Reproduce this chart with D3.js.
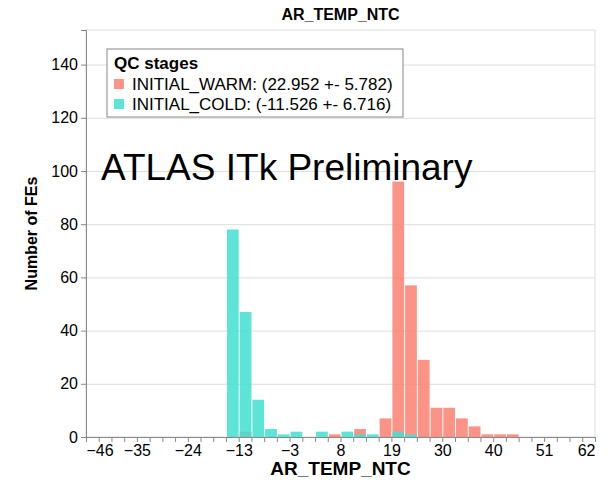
<!DOCTYPE html>
<html>
<head>
<meta charset="utf-8">
<script src="https://cdn.jsdelivr.net/npm/d3@7"></script>
<style>
  body { margin: 0; background: #fff; }
  svg { font-family: "Liberation Sans", Arial, Helvetica, sans-serif; }
</style>
</head>
<body>
<div id="chart"></div>
<script>
// histogram bins (lower edge of each bin, all bins 2.7 wide)
const binStart = -45.9;
const binWidth = 2.7;
const binCount = 40;

// INITIAL_WARM
const warmLow   = [-13.5, 5.4, 10.8, 16.2, 18.9, 21.6, 24.3, 27.0, 29.7, 32.4, 35.1, 37.8, 40.5, 43.2];
const warmCount = [2, 1, 3, 7, 96, 57, 29, 11, 11, 7, 4, 1, 1, 1];

// INITIAL_COLD
const coldLow   = [-16.2, -13.5, -10.8, -8.1, -5.4, -2.7, 2.7, 8.1, 10.8, 13.5, 18.9, 21.6];
const coldCount = [78, 47, 14, 3, 1, 2, 2, 2, 1, 1, 2, 1];

const seriesNames  = ["INITIAL_WARM: (22.952 +- 5.782)", "INITIAL_COLD: (-11.526 +- 6.716)"];
const seriesColors = ["#fa8072", "#40e0d0"];

const yTicks = [0, 20, 40, 60, 80, 100, 120, 140];
const xTickLabels = ["\u221246", "\u221235", "\u221224", "\u221213", "\u22123", "8", "19", "30", "40", "51", "62"];

function init() {
    var w = 613;
    var h = 482;
    var left = 86, right = 595, top = 30, bottom = 437;

    var svg = d3.select("#chart")
                .append("svg")
                .attr("width", w)
                .attr("height", h);

    var edges = d3.range(binCount + 1).map(i => binStart + i * binWidth);

    var xScale = d3.scaleLinear()
                .domain([edges[0], edges[binCount]])
                .range([left, right]);

    var yScale = d3.scaleLinear()
                .domain([0, 153])
                .range([bottom, top]);

    // plot frame
    svg.append("rect")
        .attr("x", left).attr("y", top)
        .attr("width", right - left).attr("height", bottom - top)
        .attr("fill", "none").attr("stroke", "#ddd");

    // horizontal grid
    svg.append("g")
        .attr("transform", "translate(" + left + ",0)")
        .call(d3.axisLeft(yScale).tickValues(yTicks).tickSize(-(right - left)).tickFormat(""))
        .call(g => g.select(".domain").remove())
        .call(g => g.selectAll("line").attr("stroke", "#ddd"));

    // bars
    var warm = warmLow.map((lo, i) => ({lo: lo, count: warmCount[i]}));
    var cold = coldLow.map((lo, i) => ({lo: lo, count: coldCount[i]}));

    [warm, cold].forEach(function(data, s) {
        svg.append("g")
            .selectAll("rect")
            .data(data)
            .enter()
            .append("rect")
            .attr("x", d => xScale(d.lo) + 1)
            .attr("y", d => yScale(d.count))
            .attr("width", d => xScale(d.lo + binWidth) - xScale(d.lo) - 1)
            .attr("height", d => yScale(0) - yScale(d.count))
            .attr("fill", seriesColors[s])
            .attr("fill-opacity", 0.85);
    });

    // y axis
    var yAxis = svg.append("g")
        .attr("transform", "translate(" + left + ",0)")
        .call(d3.axisLeft(yScale).tickValues(yTicks).tickSize(5).tickPadding(3));
    yAxis.selectAll("line, path").attr("stroke", "#888");
    yAxis.selectAll("text").style("font-size", "16px").attr("fill", "#000")
        .style("font-family", "Liberation Sans, Arial, sans-serif");

    // x axis: tick on every bin edge, label every 4th
    var xAxis = svg.append("g")
        .attr("transform", "translate(0," + bottom + ")")
        .call(d3.axisBottom(xScale).tickValues(edges).tickSize(5).tickPadding(3)
            .tickFormat((d, i) => i % 4 === 0 ? xTickLabels[i / 4] : ""));
    xAxis.selectAll("line, path").attr("stroke", "#888");
    xAxis.selectAll("text").style("font-size", "16px").attr("fill", "#000")
        .style("font-family", "Liberation Sans, Arial, sans-serif");
    xAxis.selectAll("text").filter((d, i) => i === 0).attr("text-anchor", "start");
    xAxis.selectAll("text").filter((d, i) => i === binCount).attr("text-anchor", "end");

    // titles
    svg.append("text")
        .attr("x", (left + right) / 2).attr("y", 20)
        .attr("text-anchor", "middle")
        .style("font-weight", "bold").style("font-size", "16px")
        .text("AR_TEMP_NTC");

    svg.append("text")
        .attr("x", (left + right) / 2).attr("y", 475)
        .attr("text-anchor", "middle")
        .style("font-weight", "bold").style("font-size", "19px")
        .text("AR_TEMP_NTC");

    svg.append("text")
        .attr("transform", "translate(37," + (top + bottom) / 2 + ") rotate(-90)")
        .attr("text-anchor", "middle")
        .style("font-weight", "bold").style("font-size", "16px")
        .text("Number of FEs");

    // legend
    var lg = svg.append("g");
    lg.append("rect")
        .attr("x", 107).attr("y", 49).attr("width", 296).attr("height", 68)
        .attr("fill", "#fff").attr("stroke", "#888");
    lg.append("text")
        .attr("x", 114).attr("y", 69)
        .style("font-weight", "bold").style("font-size", "17px")
        .text("QC stages");
    seriesNames.forEach(function(name, i) {
        lg.append("rect")
            .attr("x", 114).attr("y", 79 + i * 20).attr("width", 10).attr("height", 10)
            .attr("fill", seriesColors[i]).attr("fill-opacity", 0.85);
        lg.append("text")
            .attr("x", 132).attr("y", 90 + i * 20)
            .style("font-size", "17px")
            .text(name);
    });

    // ATLAS label
    svg.append("text")
        .attr("x", 101).attr("y", 180)
        .style("font-size", "37px")
        .text("ATLAS ITk Preliminary");
}

window.onload = init();
</script>
</body>
</html>
